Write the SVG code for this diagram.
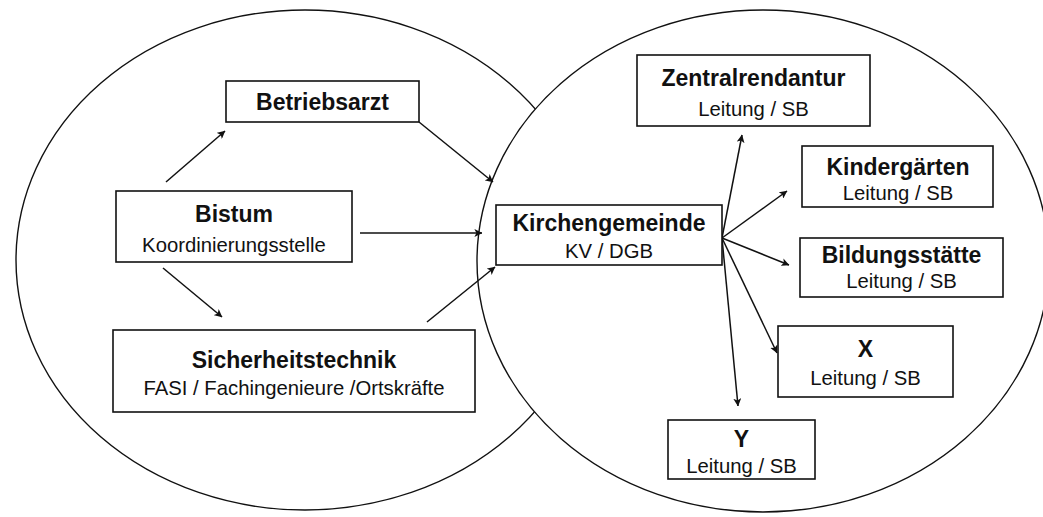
<svg xmlns="http://www.w3.org/2000/svg" width="1043" height="517" viewBox="0 0 1043 517">
<defs>
<style>
.bg{fill:#ffffff}
.ring{fill:#ffffff;stroke:#111;stroke-width:1.4}
.box{fill:#ffffff;stroke:#111;stroke-width:1.6}
.t1{font-family:"Liberation Sans",Arial,sans-serif;font-weight:bold;font-size:23px;fill:#111;text-anchor:middle}
.t2{font-family:"Liberation Sans",Arial,sans-serif;font-size:20.3px;fill:#111;text-anchor:middle}
.arr{fill:none;stroke:#111;stroke-width:1.5;marker-end:url(#ah)}
</style>
<marker id="ah" viewBox="0 0 10 10" refX="9.5" refY="5" markerWidth="8" markerHeight="8" markerUnits="userSpaceOnUse" orient="auto">
<path d="M0,0 L10,5 L0,10 L2.5,5 Z" fill="#111"/>
</marker>
</defs>
<rect class="bg" x="0" y="0" width="1043" height="517"/>
<g id="circles">
<ellipse id="left-area" class="ring" cx="305" cy="260" rx="289" ry="250"/>
<ellipse id="right-area" class="ring" cx="763" cy="261" rx="286" ry="251"/>
</g>
<g id="connectors">
<line class="arr" x1="166" y1="182" x2="225" y2="131"/>
<line class="arr" x1="419" y1="122" x2="493" y2="182"/>
<line class="arr" x1="360" y1="233" x2="482" y2="233"/>
<line class="arr" x1="163" y1="268" x2="222" y2="317"/>
<line class="arr" x1="427" y1="322" x2="495" y2="267"/>
<line class="arr" x1="722" y1="238" x2="742" y2="135"/>
<line class="arr" x1="722" y1="238" x2="787" y2="191"/>
<line class="arr" x1="722" y1="238" x2="789" y2="265"/>
<line class="arr" x1="722" y1="238" x2="777" y2="353"/>
<line class="arr" x1="722" y1="238" x2="738" y2="406"/>
</g>
<g id="betriebsarzt">
<rect class="box" x="226" y="81" width="193" height="41"/>
<text class="t1" x="322.5" y="110">Betriebsarzt</text>
</g>
<g id="bistum">
<rect class="box" x="116" y="191" width="236" height="71"/>
<text class="t1" x="234" y="222">Bistum</text>
<text class="t2" x="234" y="252">Koordinierungsstelle</text>
</g>
<g id="sicherheitstechnik">
<rect class="box" x="113" y="330" width="362" height="82"/>
<text class="t1" x="294" y="368">Sicherheitstechnik</text>
<text class="t2" x="294" y="395">FASI / Fachingenieure /Ortskräfte</text>
</g>
<g id="kirchengemeinde">
<rect class="box" x="496" y="205" width="226" height="60"/>
<text class="t1" x="609" y="231">Kirchengemeinde</text>
<text class="t2" x="609" y="258">KV / DGB</text>
</g>
<g id="zentralrendantur">
<rect class="box" x="637" y="55" width="233" height="71"/>
<text class="t1" x="753.5" y="86">Zentralrendantur</text>
<text class="t2" x="753.5" y="116">Leitung / SB</text>
</g>
<g id="kindergaerten">
<rect class="box" x="802" y="146" width="191" height="61"/>
<text class="t1" x="898" y="175">Kindergärten</text>
<text class="t2" x="898" y="200">Leitung / SB</text>
</g>
<g id="bildungsstaette">
<rect class="box" x="800" y="238" width="203" height="59"/>
<text class="t1" x="901.5" y="263">Bildungsstätte</text>
<text class="t2" x="901.5" y="288">Leitung / SB</text>
</g>
<g id="x">
<rect class="box" x="778" y="326" width="175" height="71"/>
<text class="t1" x="865.5" y="357">X</text>
<text class="t2" x="865.5" y="385">Leitung / SB</text>
</g>
<g id="y">
<rect class="box" x="668" y="420" width="147" height="59"/>
<text class="t1" x="741.5" y="447">Y</text>
<text class="t2" x="741.5" y="473">Leitung / SB</text>
</g>
</svg>
